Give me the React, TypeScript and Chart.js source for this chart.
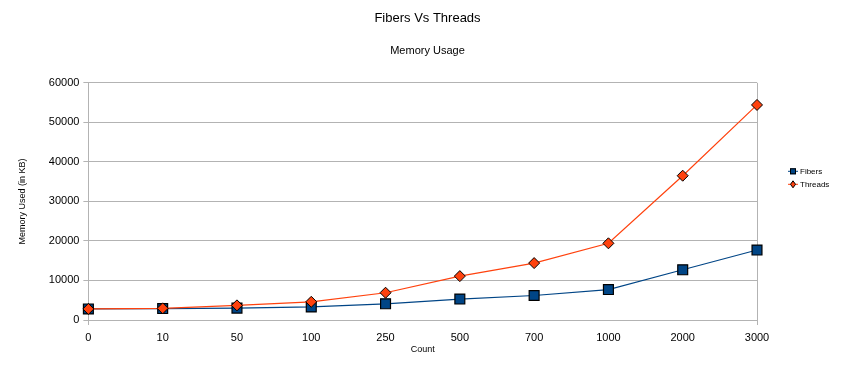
import React, { useEffect, useRef } from "react";
import { Chart, registerables } from "chart.js";

Chart.register(...registerables);

const categories = ["0", "10", "50", "100", "250", "500", "700", "1000", "2000", "3000"];
const fibers = [2800, 2900, 3000, 3300, 4100, 5300, 6200, 7700, 12700, 17700];
const threads = [2800, 2950, 3700, 4600, 6900, 11100, 14400, 19400, 36500, 54400];
const seriesNames = ["Fibers", "Threads"];
const yTicks = [0, 10000, 20000, 30000, 40000, 50000, 60000];

const FONT = "'Liberation Sans', Arial, sans-serif";
const BLUE = "#004586";
const ORANGE = "#ff420e";
const GRID = "#b3b3b3";

const legendPlugin = {
  id: "customLegend",
  afterDraw(chart: any) {
    const { ctx, chartArea } = chart;
    const x0 = chartArea.right + 31;
    const yStart = chartArea.top + 88;
    ctx.save();
    chart.data.datasets.forEach((ds: any, i: number) => {
      const y = yStart + i * 13;
      ctx.strokeStyle = ds.borderColor;
      ctx.lineWidth = 1;
      ctx.beginPath();
      ctx.moveTo(x0, y + 0.5);
      ctx.lineTo(x0 + 10, y + 0.5);
      ctx.stroke();
      ctx.fillStyle = ds.pointBackgroundColor;
      ctx.strokeStyle = "#000";
      const cx = x0 + 5;
      if (ds.pointStyle === "rect") {
        ctx.fillRect(cx - 3, y - 2.5, 6, 6);
        ctx.strokeRect(cx - 3 + 0.5, y - 2.5 + 0.5, 5, 5);
      } else {
        ctx.beginPath();
        ctx.moveTo(cx, y - 3);
        ctx.lineTo(cx + 2.5, y + 0.5);
        ctx.lineTo(cx, y + 4);
        ctx.lineTo(cx - 2.5, y + 0.5);
        ctx.closePath();
        ctx.fill();
        ctx.stroke();
      }
      ctx.fillStyle = "#000";
      ctx.font = `8px ${FONT}`;
      ctx.textBaseline = "middle";
      ctx.textAlign = "left";
      ctx.fillText(ds.label, x0 + 12, y + 1);
    });
    ctx.restore();
  },
};

export default function App() {
  const ref = useRef<HTMLCanvasElement>(null);
  useEffect(() => {
    if (!ref.current) return;
    const chart = new Chart(ref.current, {
      type: "line",
      data: {
        labels: categories,
        datasets: [
          {
            label: seriesNames[0],
            data: fibers,
            borderColor: BLUE,
            backgroundColor: BLUE,
            pointBackgroundColor: BLUE,
            pointBorderColor: "#000",
            pointBorderWidth: 1.2,
            pointStyle: "rect",
            pointRadius: 7,
            borderWidth: 1.2,
            order: 1,
          },
          {
            label: seriesNames[1],
            data: threads,
            borderColor: ORANGE,
            backgroundColor: ORANGE,
            pointBackgroundColor: ORANGE,
            pointBorderColor: "#000",
            pointBorderWidth: 1,
            pointStyle: "rectRot",
            pointRadius: 5.5,
            borderWidth: 1.2,
            order: 0,
          },
        ],
      },
      options: {
        animation: false,
        responsive: false,
        maintainAspectRatio: false,
        layout: { padding: { left: 0, right: 0, top: 0, bottom: 25 } },
        plugins: {
          legend: { display: false },
          tooltip: { enabled: false },
          title: {
            display: true,
            text: "Fibers Vs Threads",
            color: "#000",
            font: { family: FONT, size: 13, weight: "normal" },
            padding: { top: 11, bottom: 8 },
          },
          subtitle: {
            display: true,
            text: "Memory Usage",
            color: "#000",
            font: { family: FONT, size: 11, weight: "normal" },
            padding: { top: 10, bottom: 25 },
          },
        },
        scales: {
          x: {
            offset: false,
            grid: {
              color: (c: any) =>
                c.index === 0 || c.index === categories.length - 1 ? GRID : "rgba(0,0,0,0)",
              tickLength: 5,
              drawOnChartArea: true,
            },
            border: { display: false },
            ticks: {
              color: "#000",
              font: { family: FONT, size: 11 },
              padding: 6,
              maxRotation: 0,
              autoSkip: false,
            },
            title: {
              display: true,
              text: "Count",
              color: "#000",
              font: { family: FONT, size: 9 },
              padding: { top: -6, bottom: 0 },
            },
          },
          y: {
            min: 0,
            max: 60000,
            afterBuildTicks: (axis: any) => {
              axis.ticks = yTicks.map((v) => ({ value: v }));
            },
            grid: { color: GRID, tickLength: 5 },
            border: { display: true, color: GRID },
            ticks: {
              color: "#000",
              font: { family: FONT, size: 11 },
              padding: 4,
              callback: (v: any) => String(v),
            },
            title: {
              display: true,
              text: "Memory Used (in KB)",
              color: "#000",
              font: { family: FONT, size: 9 },
              padding: { top: 17, bottom: 17 },
            },
          },
          yRight: {
            position: "right",
            display: true,
            grid: { display: false },
            border: { display: false },
            ticks: { display: false },
            afterFit: (axis: any) => {
              axis.width = 98;
            },
          },
        },
      },
      plugins: [legendPlugin],
    });
    return () => chart.destroy();
  }, []);
  return (
    <div style={{ position: "fixed", left: 0, top: 0, width: 855, height: 380, background: "#fff" }}>
      <canvas ref={ref} width={855} height={380} style={{ width: 855, height: 380 }} />
    </div>
  );
}
